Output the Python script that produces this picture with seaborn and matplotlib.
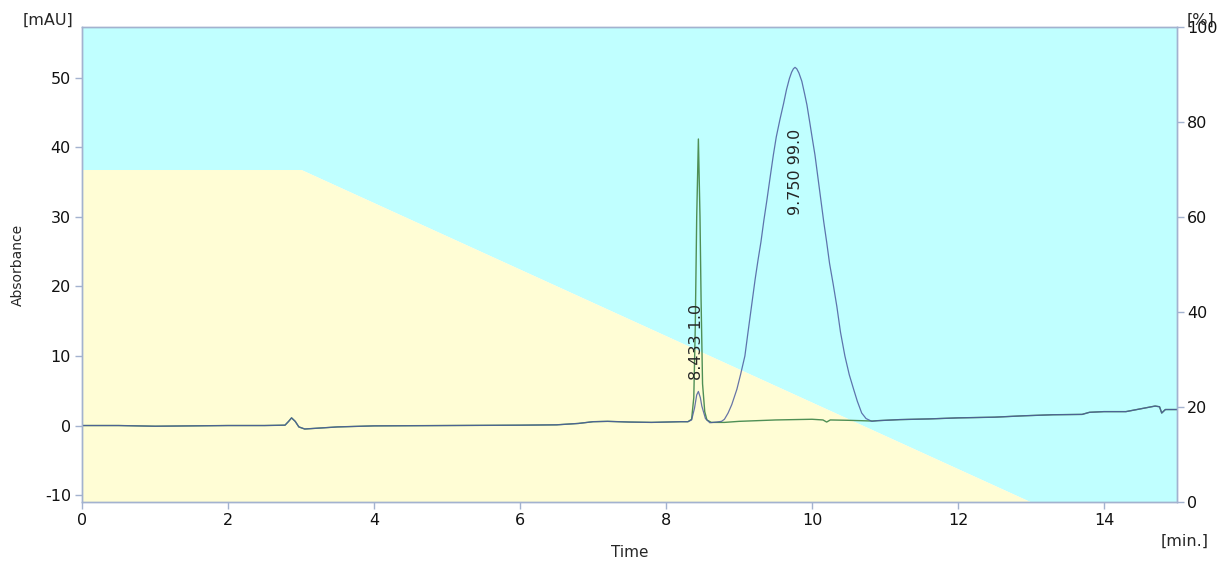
import seaborn as sns
import matplotlib.pyplot as plt
import pandas as pd

# gradient program (% B)
grad_time = [0, 3, 13, 15]
grad_pct = [70, 70, 0, 0]

# shared baseline before the peaks
base_t = [0.0, 0.5, 1.0, 1.5, 2.0, 2.5, 2.78, 2.83, 2.87, 2.92, 2.97, 3.05, 3.2, 3.5, 4.0,
          5.0, 6.0, 6.5, 6.8, 7.0, 7.2, 7.5, 7.8, 8.0, 8.2, 8.3]
base_v = [0.0, 0.0, -0.1, -0.05, 0.0, 0.0, 0.05, 0.6, 1.1, 0.6, -0.2, -0.5, -0.4, -0.2, -0.05,
          0.0, 0.05, 0.1, 0.3, 0.55, 0.6, 0.5, 0.45, 0.5, 0.55, 0.55]

# shared baseline after the peaks
tail_t = [10.9, 11.2, 11.6, 12.0, 12.5, 12.9, 13.3, 13.7, 13.8, 14.0, 14.3, 14.5, 14.7, 14.76,
          14.79, 14.84, 15.0]
tail_v = [0.7, 0.85, 0.95, 1.1, 1.2, 1.4, 1.55, 1.6, 1.9, 2.0, 2.0, 2.4, 2.8, 2.7,
          1.8, 2.3, 2.3]

# channel 1 (blue): small peak at 8.433 and main peak at 9.750
blue_t = [8.35, 8.39, 8.42, 8.443, 8.47, 8.49, 8.54, 8.60, 8.69, 8.76, 8.80, 8.85, 8.90, 8.97,
          9.02, 9.08, 9.12, 9.17, 9.22, 9.26, 9.30, 9.34, 9.38, 9.43, 9.47, 9.51, 9.56, 9.61,
          9.65, 9.69, 9.72, 9.745, 9.767, 9.79, 9.82, 9.86, 9.90, 9.93, 9.97, 10.00, 10.04,
          10.08, 10.12, 10.16, 10.20, 10.24, 10.29, 10.34, 10.39, 10.45, 10.51, 10.57, 10.62,
          10.68, 10.74, 10.82]
blue_v = [0.8, 2.5, 4.4, 4.9, 4.0, 2.8, 1.0, 0.4, 0.5, 0.6, 0.9, 1.8, 3.0, 5.2,
          7.3, 10.0, 13.2, 17.1, 21.0, 23.8, 26.4, 29.5, 32.3, 36.0, 38.9, 41.5, 44.0, 46.3,
          48.3, 49.9, 50.8, 51.3, 51.5, 51.3, 50.7, 49.5, 47.6, 46.1, 43.5, 41.5, 38.9,
          35.7, 32.5, 29.3, 26.4, 23.3, 20.3, 17.1, 13.4, 10.0, 7.3, 5.2, 3.5,
          1.8, 1.0, 0.6]

# channel 2 (green): sharp peak at 8.433
green_t = [8.35, 8.38, 8.40, 8.42, 8.443, 8.465, 8.48, 8.50, 8.53, 8.56, 8.62, 8.8, 9.0, 9.5,
           10.0, 10.15, 10.2, 10.25, 10.5, 10.82]
green_v = [0.9, 4.0, 14.0, 30.0, 41.2, 30.0, 18.0, 6.0, 2.0, 0.8, 0.45, 0.45, 0.6, 0.8,
           0.9, 0.8, 0.5, 0.8, 0.75, 0.65]

peak_labels = ["8.433 1.0", "9.750 99.0"]
peak_label_t = [8.42, 9.77]
peak_label_y = [6.6, 30.3]

blue = pd.DataFrame({"t": base_t + blue_t + tail_t, "v": base_v + blue_v + tail_v})
green = pd.DataFrame({"t": base_t + green_t + tail_t, "v": base_v + green_v + tail_v})

sns.set_style("white")
plt.rcParams["font.family"] = ["DejaVu Sans"]
plt.rcParams["axes.unicode_minus"] = False
edge = "#a3b2cf"

fig = plt.figure(figsize=(12.21, 5.63), dpi=100)
ax = fig.add_axes([0.0672, 0.1083, 0.8968, 0.8437])
ax2 = ax.twinx()
ax.set_zorder(ax2.get_zorder() + 1)
ax.patch.set_visible(False)

# gradient background: yellow below the %B line, cyan above
ax2.fill_between(grad_time, grad_pct, 100, color="#c0ffff", lw=0)
ax2.fill_between(grad_time, grad_pct, 0, color="#fffdd5", lw=0)
ax2.set_xlim(0, 15)
ax2.set_ylim(0, 100)
ax2.set_yticks(range(0, 101, 20))

sns.lineplot(data=green, x="t", y="v", ax=ax, color="#4f8f55", lw=1.0,
             estimator=None, sort=False)
sns.lineplot(data=blue, x="t", y="v", ax=ax, color="#4c5c9e", lw=0.9, alpha=0.85,
             estimator=None, sort=False)

for lab, tx, ty in zip(peak_labels, peak_label_t, peak_label_y):
    ax.text(tx, ty, lab, rotation=90, ha="center", va="bottom", fontsize=11.5)

ax.set_xlim(0, 15)
ax.set_ylim(-11, 57.3)
ax.set_xticks(range(0, 15, 2))
ax.set_yticks(range(-10, 51, 10))
ax.set_xlabel("Time", fontsize=11)
ax.set_ylabel("Absorbance", fontsize=10)
ax.xaxis.set_label_coords(0.5, -0.09)
ax.yaxis.set_label_coords(-0.052, 0.5)

for a in (ax, ax2):
    for s in a.spines.values():
        s.set_color(edge)
        s.set_linewidth(1.0)
    a.tick_params(length=5, width=1, color=edge, labelsize=11.5, labelcolor="#111111",
                  direction="out")
ax.tick_params(axis="both", left=True, bottom=True, pad=3)
ax2.tick_params(axis="y", right=True, pad=2)

fig.text(48 / 1221, 1 - 20 / 563, "[mAU]", ha="center", va="center", fontsize=11.5)
fig.text(1201 / 1221, 1 - 20 / 563, "[%]", ha="center", va="center", fontsize=11.5)
fig.text(1185 / 1221, 1 - 541 / 563, "[min.]", ha="center", va="center", fontsize=11.5)

fig.savefig("out.png", dpi=100, facecolor="white")
